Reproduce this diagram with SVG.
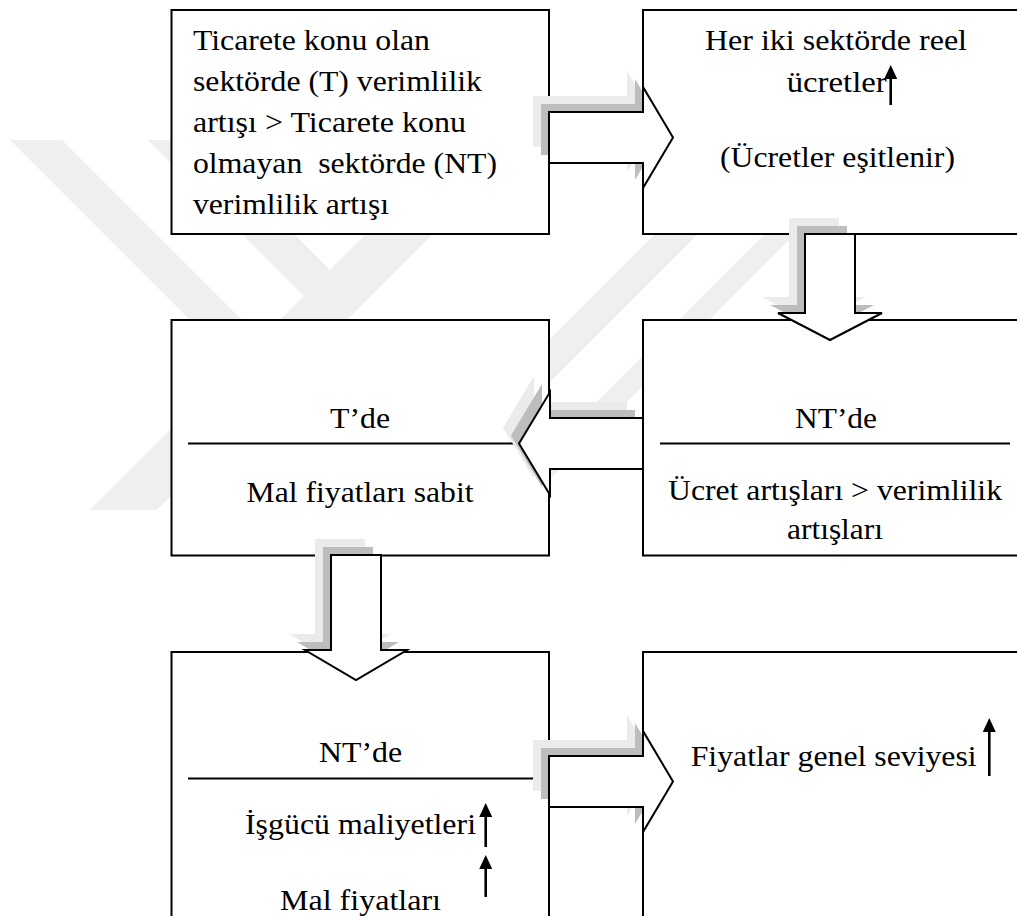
<svg xmlns="http://www.w3.org/2000/svg" width="1017" height="916" viewBox="0 0 1017 916">
<style>
.box{fill:#fff;stroke:#000;stroke-width:2}
.arr{fill:#fff;stroke:#000;stroke-width:2;stroke-linejoin:miter}
.sh1{fill:#ebebeb}
.sh2{fill:#bdbdbd}
.wm{fill:#efefef}
.t{font-family:"Liberation Serif","Times New Roman",serif;font-size:30px;fill:#000}
.c{text-anchor:middle}
.div{stroke:#000;stroke-width:2}
.up{stroke:#000;stroke-width:2.6;marker-end:url(#ah)}
</style>
<defs>
<marker id="ah" markerUnits="userSpaceOnUse" markerWidth="14" markerHeight="13" refX="0" refY="6.5" orient="auto" viewBox="0 0 14 13"><path d="M0,0 L14,6.5 L0,13 Z" fill="#000"/></marker>
<polygon id="pR1" points="549,112 643,112 643,87 673,137.5 643,188 643,163 549,163"/>
<polygon id="pR2" points="549,756 643,756 643,731 673,781.5 643,832 643,807 549,807"/>
<polygon id="pD1" points="805,234 855,234 855,313 882,313 830,340 778,313 805,313"/>
<polygon id="pD2" points="331,555 381,555 381,650 407,650 356,680 305,650 331,650"/>
<polygon id="pL1" points="643,418 550,418 550,392 519,443.5 550,495 550,469 643,469"/>
<clipPath id="leftOf643"><rect x="0" y="0" width="643" height="916"/></clipPath>
</defs>
<rect width="1017" height="916" fill="#fff"/>
<g id="watermark">
<polygon class="wm" points="10,140 62,140 477,555 425,555"/>
<polygon class="wm" points="148,140 200,140 330,270 304,296"/>
<polygon class="wm" points="90,510 157,510 527,140 460,140"/>
<polygon class="wm" points="749,140 792,140 377,555 334,555"/>
<polygon class="wm" points="859,140 889,140 474,555 444,555"/>
</g>
<g id="n1"><rect class="box" x="171.5" y="10" width="377.5" height="224"/>
<text class="t" x="193" y="50" textLength="237" lengthAdjust="spacingAndGlyphs">Ticarete konu olan</text>
<text class="t" x="193" y="91" textLength="289" lengthAdjust="spacingAndGlyphs">sektörde (T) verimlilik</text>
<text class="t" x="193" y="132" textLength="273" lengthAdjust="spacingAndGlyphs">artışı &gt; Ticarete konu</text>
<text class="t" x="193" y="173" textLength="304" lengthAdjust="spacingAndGlyphs" xml:space="preserve">olmayan  sektörde (NT)</text>
<text class="t" x="193" y="214" textLength="196" lengthAdjust="spacingAndGlyphs">verimlilik artışı</text>
</g>
<g id="n2"><rect class="box" x="643" y="10" width="400" height="224"/>
<text class="t c" x="836" y="50" textLength="262" lengthAdjust="spacingAndGlyphs">Her iki sektörde reel</text>
<text class="t" x="786.7" y="91.7" textLength="100" lengthAdjust="spacingAndGlyphs">ücretler</text>
<line class="up" x1="890.7" y1="105" x2="890.7" y2="79"/>
<text class="t c" x="837.5" y="167" textLength="235" lengthAdjust="spacingAndGlyphs">(Ücretler eşitlenir)</text>
</g>
<g id="n3"><rect class="box" x="171.5" y="320" width="377.5" height="235.5"/>
<text class="t c" x="360" y="428" textLength="60" lengthAdjust="spacingAndGlyphs">T’de</text>
<line class="div" x1="188" y1="443.5" x2="520" y2="443.5"/>
<text class="t c" x="360" y="502" textLength="227" lengthAdjust="spacingAndGlyphs">Mal fiyatları sabit</text>
</g>
<g id="n4"><rect class="box" x="643" y="320" width="400" height="235.5"/>
<text class="t c" x="836" y="428" textLength="82" lengthAdjust="spacingAndGlyphs">NT’de</text>
<line class="div" x1="660" y1="443.5" x2="1010" y2="443.5"/>
<text class="t c" x="835" y="500" textLength="334" lengthAdjust="spacingAndGlyphs">Ücret artışları &gt; verimlilik</text>
<text class="t c" x="835" y="539" textLength="96" lengthAdjust="spacingAndGlyphs">artışları</text>
</g>
<g id="n5"><rect class="box" x="171.5" y="652" width="377.5" height="300"/>
<text class="t c" x="360.6" y="762" textLength="83" lengthAdjust="spacingAndGlyphs">NT’de</text>
<line class="div" x1="188" y1="778.6" x2="533" y2="778.6"/>
<text class="t" x="245" y="834" textLength="231" lengthAdjust="spacingAndGlyphs">İşgücü maliyetleri</text>
<line class="up" x1="485.7" y1="847" x2="485.7" y2="817"/>
<line class="up" x1="485.7" y1="897" x2="485.7" y2="869"/>
<text class="t c" x="360.5" y="910" textLength="161" lengthAdjust="spacingAndGlyphs">Mal fiyatları</text>
</g>
<g id="n6"><rect class="box" x="643" y="652" width="400" height="300"/>
<text class="t" x="690.7" y="766" textLength="286" lengthAdjust="spacingAndGlyphs">Fiyatlar genel seviyesi</text>
<line class="up" x1="989.3" y1="776" x2="989.3" y2="732"/>
</g>
<g id="connectors">
<g clip-path="url(#leftOf643)"><use href="#pR1" class="sh1" transform="translate(-16,-16)"/><use href="#pR1" class="sh2" transform="translate(-8,-8)"/></g>
<use href="#pR1" class="arr"/>
<use href="#pD1" class="sh1" transform="translate(-16,-16)"/><use href="#pD1" class="sh2" transform="translate(-8,-8)"/>
<use href="#pD1" class="arr"/>
<use href="#pL1" class="sh1" transform="translate(-16,-16)"/><use href="#pL1" class="sh2" transform="translate(-8,-8)"/>
<use href="#pL1" class="arr"/>
<use href="#pD2" class="sh1" transform="translate(-16,-16)"/><use href="#pD2" class="sh2" transform="translate(-8,-8)"/>
<use href="#pD2" class="arr"/>
<g clip-path="url(#leftOf643)"><use href="#pR2" class="sh1" transform="translate(-16,-16)"/><use href="#pR2" class="sh2" transform="translate(-8,-8)"/></g>
<use href="#pR2" class="arr"/>
</g>
</svg>
